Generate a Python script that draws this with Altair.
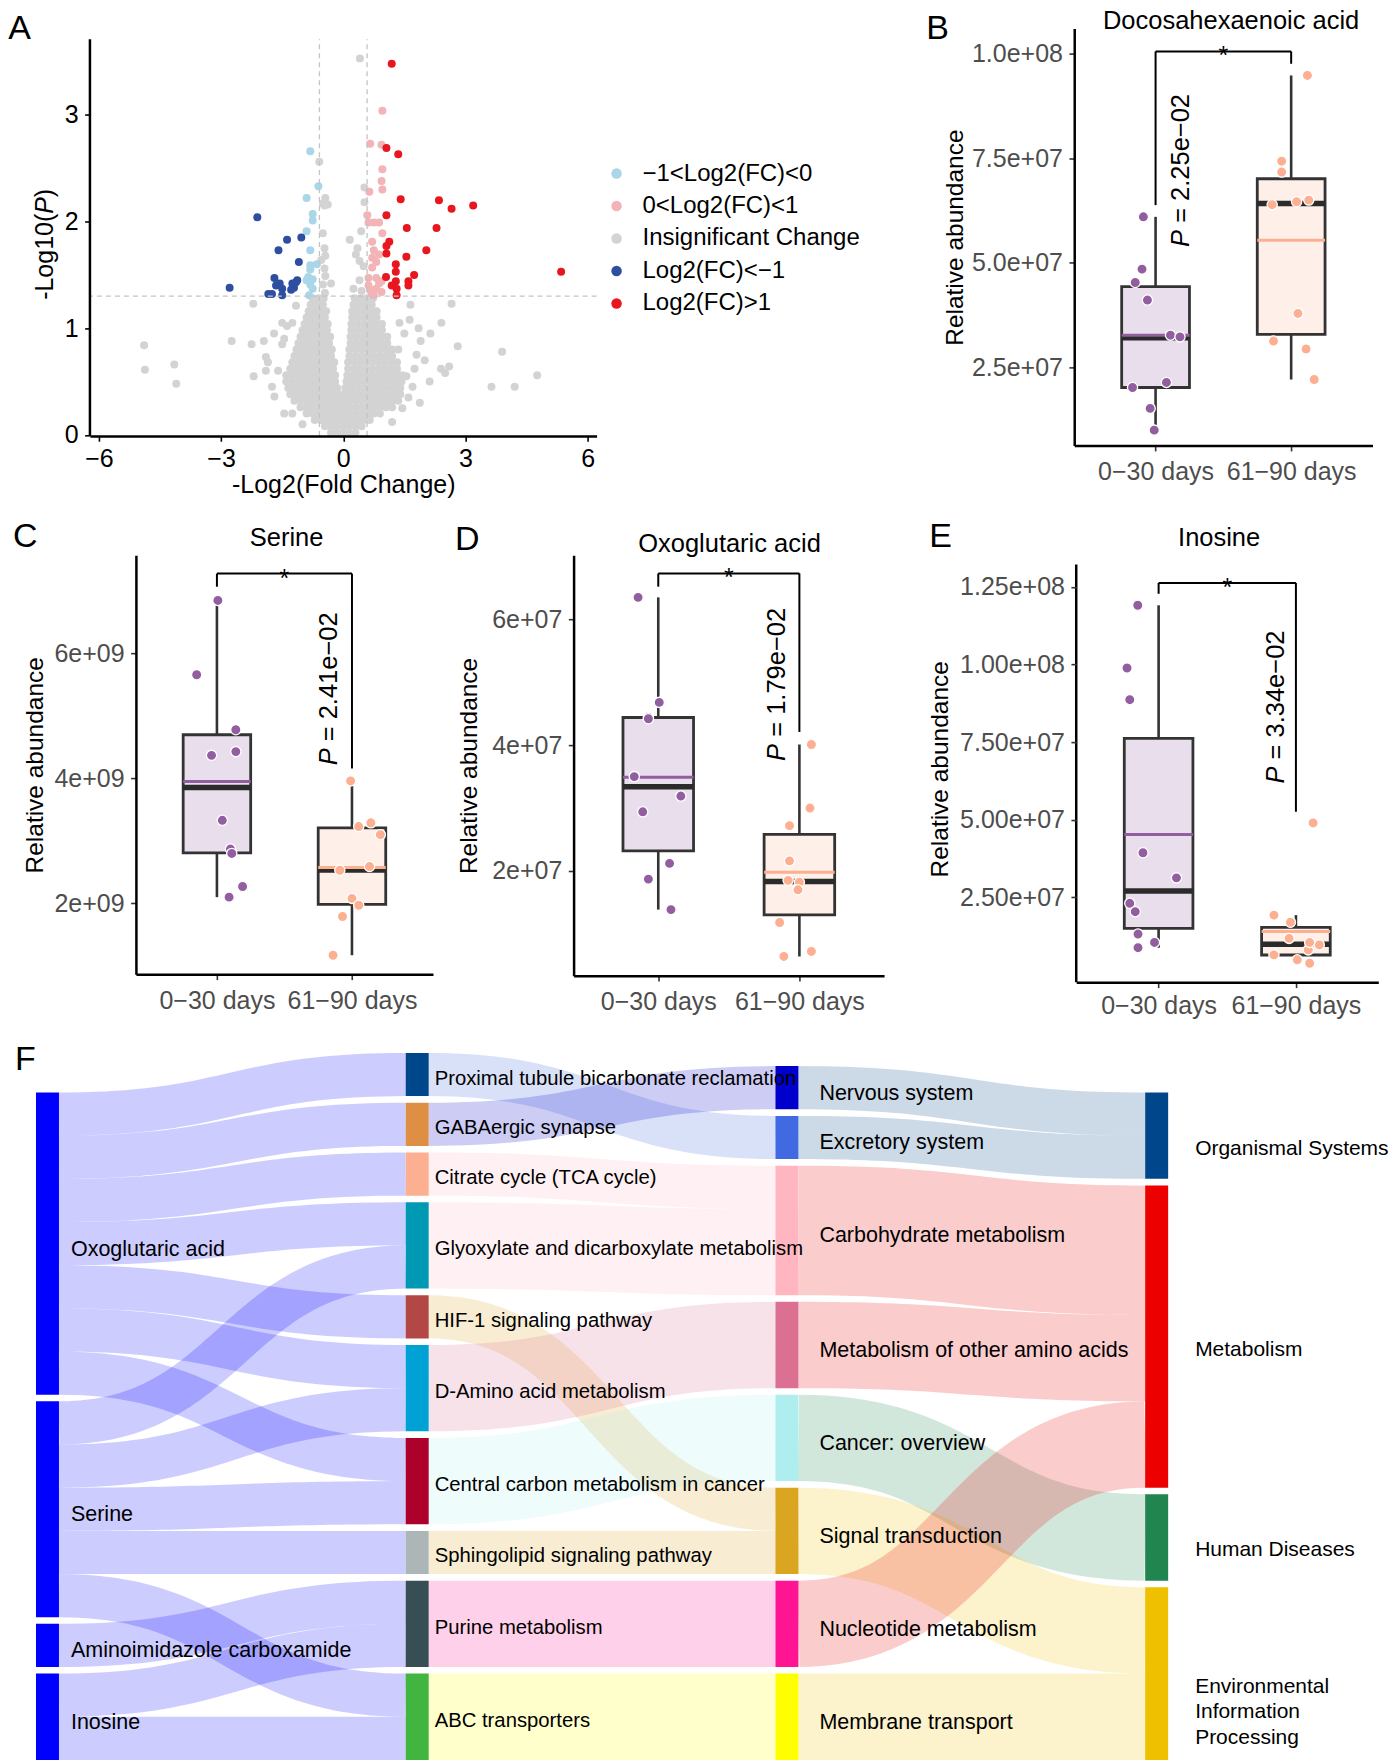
import altair as alt
import numpy as np
import pandas as pd

FONT = "Liberation Sans"
DARK = "#333333"

# ======================= Panel A : volcano plot =======================
vol_cats = ["\u22121<Log2(FC)<0", "0<Log2(FC)<1", "Insignificant Change", "Log2(FC)<\u22121", "Log2(FC)>1"]
vol_colors = ["#A9D6E8", "#F2B4B6", "#D3D3D3", "#2E4FA0", "#E8161E"]
fc_cut = [-0.585, 0.585]
p_cut = [1.301]

lb_x = [-0.81, -0.61, -0.90, -0.75, -0.75, -0.90, -0.81, -0.65, -0.81, -0.81, -0.86, -0.75, -0.81, -0.75, -0.84, -0.90]
lb_y = [2.66, 2.33, 2.22, 2.07, 2.01, 1.91, 1.73, 1.60, 1.59, 1.55, 1.48, 1.46, 1.41, 1.37, 1.31, 1.45]
pk_x = [0.96, 0.66, 0.94, 0.96, 0.94, 0.96, 0.64, 0.59, 0.62, 0.75, 0.88, 0.96, 0.71, 0.75, 0.88, 0.71, 0.81, 0.71,
        0.62, 0.81, 0.94, 0.62, 0.81, 0.69, 0.94, 0.75, 0.88, 0.66]
pk_y = [3.04, 2.73, 2.72, 2.49, 2.38, 2.30, 2.28, 2.06, 1.99, 1.99, 1.99, 1.89, 1.81, 1.73, 1.69, 1.66, 1.62, 1.57,
        1.47, 1.47, 1.44, 1.40, 1.37, 1.34, 1.34, 1.31, 1.42, 1.36]
db_x = [-2.11, -1.38, -1.03, -1.59, -1.09, -1.69, -1.56, -1.50, -1.25, -1.13, -1.21, -1.16, -1.28, -2.79, -1.84, -1.75, -1.50, -1.65]
db_y = [2.04, 1.83, 1.85, 1.73, 1.62, 1.47, 1.42, 1.37, 1.42, 1.45, 1.38, 1.43, 1.36, 1.38, 1.32, 1.32, 1.31, 1.40]
rd_x = [1.19, 1.06, 1.35, 1.41, 2.35, 2.66, 3.19, 1.06, 1.56, 2.29, 1.13, 1.06, 1.06, 2.04, 1.55, 1.29, 1.29, 5.35,
        1.74, 1.05, 1.29, 1.60, 1.60, 1.19, 1.31, 1.31]
rd_y = [3.48, 2.69, 2.63, 2.21, 2.20, 2.12, 2.15, 2.06, 1.94, 1.94, 1.81, 1.77, 1.70, 1.73, 1.67, 1.60, 1.53, 1.53,
        1.50, 1.48, 1.44, 1.44, 1.40, 1.40, 1.37, 1.31]
gr_x = [0.41, -0.59, -0.44, -0.50, -0.38, -0.46, 0.52, 0.52, 0.44, 0.16, -0.50, 0.35, 0.31, 0.40, 0.50, -0.46, -0.44,
        -0.54, -0.46, -0.44, -0.50, 0.25, -0.30, 0.40, 0.45, -0.45,
        -2.21, 1.65, 2.66, -1.16, 1.38, 1.63, 2.41, -1.50, -1.38, -1.25, -2.74, -4.89, -4.87, -4.15, -4.10, 3.90, 4.76,
        3.64, 4.21, 2.81, 2.14, 2.40, 2.50, 2.60, 2.12, 1.88, 1.70, 1.55, -1.25, -1.69, -1.90, -1.85, -1.50, -1.45,
        -2.20, -2.25, -1.90, -1.95, 1.90, 1.80, 1.75, 2.00, 1.50, 1.85, -1.70, -1.60, -1.75, 1.60, 1.45, -1.45, 1.20, -1.00]
gr_y = [3.53, 2.56, 2.22, 2.17, 2.16, 2.15, 2.32, 2.18, 1.91, 1.83, 1.89, 1.75, 1.69, 1.63, 1.58, 1.75, 1.68,
        1.64, 1.56, 1.49, 1.41, 1.37, 1.42, 1.45, 1.35, 1.33,
        1.23, 1.22, 1.23, 1.21, 1.05, 1.08, 1.05, 1.05, 1.02, 1.05, 0.88, 0.84, 0.61, 0.66, 0.48, 0.78, 0.56,
        0.45, 0.45, 0.83, 0.95, 0.62, 0.58, 0.64, 0.50, 0.30, 0.45, 0.55, 0.20, 0.36, 0.73, 0.68, 0.85, 0.90,
        0.55, 0.85, 0.60, 0.88, 0.88, 0.75, 0.62, 0.70, 0.95, 1.00, 0.95, 0.60, 0.45, 0.35, 0.25, 0.20, 0.12, 0.10]
# dense non-significant core, read row by row (y level, x positions)
cloud_rows = [
    (0.02, [-0.3, -0.15, 0.0, 0.15, 0.3]),
    (0.08, [-0.45, -0.3, -0.15, 0.0, 0.15, 0.3, 0.45]),
    (0.14, [-0.7, -0.55, -0.4, -0.25, -0.1, 0.05, 0.2, 0.35, 0.5, 0.65]),
    (0.20, [-0.9, -0.75, -0.6, -0.45, -0.3, -0.15, 0.0, 0.15, 0.3, 0.45, 0.6, 0.75, 0.9]),
    (0.26, [-1.05, -0.9, -0.75, -0.6, -0.45, -0.3, -0.15, 0.0, 0.15, 0.3, 0.45, 0.6, 0.75, 0.9, 1.05, 1.2]),
    (0.32, [-1.2, -1.05, -0.9, -0.75, -0.6, -0.45, -0.3, -0.15, 0.0, 0.15, 0.3, 0.45, 0.6, 0.75, 0.9, 1.05, 1.2, 1.35]),
    (0.38, [-1.3, -1.15, -1.0, -0.85, -0.7, -0.55, -0.4, -0.25, -0.1, 0.05, 0.2, 0.35, 0.5, 0.65, 0.8, 0.95, 1.1, 1.25, 1.4]),
    (0.44, [-1.35, -1.2, -1.05, -0.9, -0.75, -0.6, -0.45, -0.3, -0.15, 0.05, 0.2, 0.35, 0.5, 0.65, 0.8, 0.95, 1.1, 1.25, 1.4]),
    (0.50, [-1.4, -1.25, -1.1, -0.95, -0.8, -0.65, -0.5, -0.35, -0.2, 0.08, 0.23, 0.38, 0.53, 0.68, 0.83, 0.98, 1.13, 1.28, 1.43]),
    (0.56, [-1.4, -1.25, -1.1, -0.95, -0.8, -0.65, -0.5, -0.35, -0.2, 0.1, 0.25, 0.4, 0.55, 0.7, 0.85, 1.0, 1.15, 1.3, 1.45]),
    (0.62, [-1.3, -1.15, -1.0, -0.85, -0.7, -0.55, -0.4, -0.25, 0.12, 0.27, 0.42, 0.57, 0.72, 0.87, 1.02, 1.17, 1.32]),
    (0.68, [-1.25, -1.1, -0.95, -0.8, -0.65, -0.5, -0.35, -0.22, 0.12, 0.27, 0.42, 0.57, 0.72, 0.87, 1.02, 1.17, 1.32]),
    (0.74, [-1.2, -1.05, -0.9, -0.75, -0.6, -0.45, -0.3, 0.15, 0.3, 0.45, 0.6, 0.75, 0.9, 1.05, 1.2]),
    (0.80, [-1.15, -1.0, -0.85, -0.7, -0.55, -0.4, -0.28, 0.15, 0.3, 0.45, 0.6, 0.75, 0.9, 1.05, 1.2, 1.35]),
    (0.86, [-1.1, -0.95, -0.8, -0.65, -0.5, -0.35, 0.18, 0.33, 0.48, 0.63, 0.78, 0.93, 1.08]),
    (0.92, [-1.05, -0.9, -0.75, -0.6, -0.45, -0.32, 0.18, 0.33, 0.48, 0.63, 0.78, 0.93, 1.08]),
    (0.98, [-1.0, -0.85, -0.7, -0.55, -0.4, 0.2, 0.35, 0.5, 0.65, 0.8, 0.95]),
    (1.04, [-0.95, -0.8, -0.65, -0.5, -0.38, 0.2, 0.35, 0.5, 0.65, 0.8, 0.95]),
    (1.10, [-0.9, -0.75, -0.6, -0.45, 0.22, 0.37, 0.52, 0.67, 0.82]),
    (1.16, [-0.85, -0.7, -0.55, -0.42, 0.22, 0.37, 0.52, 0.67, 0.82]),
    (1.22, [-0.8, -0.65, -0.5, 0.25, 0.4, 0.55, 0.7]),
    (1.28, [-0.75, -0.6, -0.48, 0.28, 0.43, 0.58, 0.73]),
]

# ======================= Panels B-E : box plots =======================
groups = ["0\u221230 days", "61\u221290 days"]
grp_colors = ["#925E9F", "#FDAF91"]

B_x1 = [0.91, 0.90, 0.85, 0.94, 1.11, 1.18, 0.83, 1.08, 0.96, 0.99]
B_y1 = [6.10e7, 4.85e7, 4.53e7, 4.11e7, 3.27e7, 3.23e7, 2.02e7, 2.14e7, 1.52e7, 1.00e7]
B_x2 = [2.12, 1.93, 1.93, 1.86, 2.04, 2.13, 2.05, 1.87, 2.11, 2.17]
B_y2 = [9.48e7, 7.43e7, 7.17e7, 6.39e7, 6.46e7, 6.50e7, 3.79e7, 3.13e7, 2.94e7, 2.21e7]
B_q1, B_med, B_q3 = [2.02e7, 3.29e7], [3.21e7, 6.42e7], [4.43e7, 7.01e7]
B_mean, B_lo, B_hi = [3.27e7, 5.54e7], [1.00e7, 2.21e7], [6.10e7, 9.48e7]
B_ticks = [2.5e7, 5.0e7, 7.5e7, 1.0e8]
B_ticklabels = ["2.5e+07", "5.0e+07", "7.5e+07", "1.0e+08"]

C_x1 = [1.007, 0.85, 1.14, 0.96, 1.14, 1.04, 1.10, 1.11, 1.19, 1.09]
C_y1 = [6.85e9, 5.66e9, 4.78e9, 4.37e9, 4.43e9, 3.33e9, 2.87e9, 2.80e9, 2.27e9, 2.10e9]
C_x2 = [1.99, 2.05, 2.14, 2.21, 1.91, 2.13, 2.00, 2.05, 1.93, 1.86]
C_y2 = [3.96e9, 3.23e9, 3.29e9, 3.10e9, 2.53e9, 2.59e9, 2.08e9, 1.97e9, 1.79e9, 1.17e9]
C_q1, C_med, C_q3 = [2.81e9, 1.984e9], [3.856e9, 2.534e9], [4.70e9, 3.21e9]
C_mean, C_lo, C_hi = [3.95e9, 2.576e9], [2.10e9, 1.17e9], [6.85e9, 3.96e9]
C_ticks = [2e9, 4e9, 6e9]
C_ticklabels = ["2e+09", "4e+09", "6e+09"]

D_x1 = [0.857, 1.007, 0.93, 0.93, 0.83, 1.16, 0.89, 1.08, 0.93, 1.09]
D_y1 = [6.35e7, 4.68e7, 4.44e7, 4.42e7, 3.50e7, 3.19e7, 2.94e7, 2.12e7, 1.87e7, 1.385e7]
D_x2 = [2.085, 2.075, 1.93, 1.93, 1.92, 2.00, 1.99, 1.86, 2.085, 1.89]
D_y2 = [4.01e7, 3.00e7, 2.72e7, 2.16e7, 1.85e7, 1.82e7, 1.70e7, 1.18e7, 0.72e7, 0.64e7]
D_q1, D_med, D_q3 = [2.32e7, 1.30e7], [3.34e7, 1.83e7], [4.44e7, 2.58e7]
D_mean, D_lo, D_hi = [3.49e7, 1.98e7], [1.385e7, 0.64e7], [6.35e7, 4.01e7]
D_ticks = [2e7, 4e7, 6e7]
D_ticklabels = ["2e+07", "4e+07", "6e+07"]

E_x1 = [0.848, 0.77, 0.79, 0.886, 1.13, 0.79, 0.83, 0.85, 0.97, 0.85]
E_y1 = [1.191e8, 9.89e7, 8.87e7, 3.94e7, 3.13e7, 2.31e7, 2.04e7, 1.32e7, 1.05e7, 0.88e7]
E_x2 = [2.125, 1.84, 1.96, 1.95, 2.17, 2.09, 1.84, 2.01, 2.10, 2.10]
E_y2 = [4.90e7, 1.93e7, 1.70e7, 1.18e7, 0.97e7, 0.81e7, 0.65e7, 0.49e7, 0.38e7, 1.05e7]
E_q1, E_med, E_q3 = [1.50e7, 0.646e7], [2.71e7, 0.99e7], [7.62e7, 1.535e7]
E_mean, E_lo, E_hi = [4.53e7, 1.40e7], [0.88e7, 0.38e7], [1.191e8, 1.93e7]
E_ticks = [2.5e7, 5.0e7, 7.5e7, 1.0e8, 1.25e8]
E_ticklabels = ["2.50e+07", "5.00e+07", "7.50e+07", "1.00e+08", "1.25e+08"]

# significance annotations: bracket height, leg ends, p label text/position
B_sig = dict(bracket=1.0055e8, legs=[6.38e7, 9.76e7], p="2.25e\u221202", px=1.185, py=5.38e7)
C_sig = dict(bracket=7.28e9, legs=[7.07e9, 4.16e9], p="2.41e\u221202", px=1.827, py=4.21e9)
D_sig = dict(bracket=6.73e7, legs=[6.52e7, 4.21e7], p="1.79e\u221202", px=1.84, py=3.75e7)
E_sig = dict(bracket=1.263e8, legs=[1.228e8, 5.26e7], p="3.34e\u221202", px=1.857, py=6.17e7)

# ======================= Panel F : Sankey =======================
sk_col1 = ["Oxoglutaric acid", "Serine", "Aminoimidazole carboxamide", "Inosine"]
sk_col2 = ["Proximal tubule bicarbonate reclamation", "GABAergic synapse", "Citrate cycle (TCA cycle)",
           "Glyoxylate and dicarboxylate metabolism", "HIF-1 signaling pathway", "D-Amino acid metabolism",
           "Central carbon metabolism in cancer", "Sphingolipid signaling pathway", "Purine metabolism",
           "ABC transporters"]
sk_col3 = ["Nervous system", "Excretory system", "Carbohydrate metabolism", "Metabolism of other amino acids",
           "Cancer: overview", "Signal transduction", "Nucleotide metabolism", "Membrane transport"]
sk_col4 = ["Organismal Systems", "Metabolism", "Human Diseases", "Environmental Information Processing"]
sk_col4_labels = ["Organismal Systems", "Metabolism", "Human Diseases", "Environmental\nInformation\nProcessing"]
sk_col1_colors = ["#0000FF", "#0000FF", "#0000FF", "#0000FF"]
sk_col2_colors = ["#00468B", "#DF8F44", "#FDAF91", "#0099B4", "#B24745", "#00A1D5", "#AD002A", "#ADB6B6",
                  "#374E55", "#42B540"]
sk_col3_colors = ["#0000CD", "#4169E1", "#FFB6C1", "#DB7093", "#AFEEEE", "#DAA520", "#FF1493", "#FFFF00"]
sk_col4_colors = ["#00468B", "#ED0000", "#20854E", "#EFC000"]

lk_src = ["Oxoglutaric acid"] * 7 + ["Serine"] * 5 + ["Aminoimidazole carboxamide", "Inosine", "Inosine"] + [
    "Proximal tubule bicarbonate reclamation", "GABAergic synapse", "Citrate cycle (TCA cycle)",
    "Glyoxylate and dicarboxylate metabolism", "HIF-1 signaling pathway", "D-Amino acid metabolism",
    "Central carbon metabolism in cancer", "Sphingolipid signaling pathway", "Purine metabolism",
    "ABC transporters",
    "Nervous system", "Excretory system", "Carbohydrate metabolism", "Metabolism of other amino acids",
    "Cancer: overview", "Signal transduction", "Nucleotide metabolism", "Membrane transport"]
lk_tgt = [
    "Proximal tubule bicarbonate reclamation", "GABAergic synapse", "Citrate cycle (TCA cycle)",
    "Glyoxylate and dicarboxylate metabolism", "HIF-1 signaling pathway", "D-Amino acid metabolism",
    "Central carbon metabolism in cancer",
    "Glyoxylate and dicarboxylate metabolism", "D-Amino acid metabolism", "Central carbon metabolism in cancer",
    "Sphingolipid signaling pathway", "ABC transporters",
    "Purine metabolism", "Purine metabolism", "ABC transporters",
    "Excretory system", "Nervous system", "Carbohydrate metabolism", "Carbohydrate metabolism",
    "Signal transduction", "Metabolism of other amino acids", "Cancer: overview", "Signal transduction",
    "Nucleotide metabolism", "Membrane transport",
    "Organismal Systems", "Organismal Systems", "Metabolism", "Metabolism", "Human Diseases",
    "Environmental Information Processing", "Metabolism", "Environmental Information Processing"]
lk_val = [1] * 15 + [1, 1, 1, 2, 1, 2, 2, 1, 2, 2] + [1, 1, 3, 2, 2, 2, 2, 2]

# ======================= helpers =======================
AX = dict(grid=False, domainColor="black", domainWidth=2.5, tickColor=DARK, tickWidth=1.6, tickSize=5.3,
          labelColor="#4D4D4D", labelFontSize=25, labelFont=FONT, titleFont=FONT, titleFontSize=24.5,
          titleFontWeight="normal", titleColor="black", labelFlush=False, labelOverlap=False, zindex=1)
ONE = pd.DataFrame({"k": [0]})


def text_at(txt, x, y, size, align="left", baseline="alphabetic", **kw):
    return alt.Chart(ONE).mark_text(text=txt, fontSize=size, font=FONT, align=align, baseline=baseline,
                                    color="black", **kw).encode(x=alt.value(x), y=alt.value(y))


def spacer(w, h):
    return alt.Chart(ONE).mark_point(opacity=0).encode(
        x=alt.X("k:Q", axis=None), y=alt.Y("k:Q", axis=None)).properties(width=w, height=h)


# ---------------- Panel A ----------------
A_W, A_H = 507, 407.6
rows = []
for yv, xs in cloud_rows:
    for xv in xs:
        rows.append((xv, yv, vol_cats[2]))
rows += [(a, b, vol_cats[2]) for a, b in zip(gr_x, gr_y)]
rows += [(a, b, vol_cats[0]) for a, b in zip(lb_x, lb_y)]
rows += [(a, b, vol_cats[1]) for a, b in zip(pk_x, pk_y)]
rows += [(a, b, vol_cats[3]) for a, b in zip(db_x, db_y)]
rows += [(a, b, vol_cats[4]) for a, b in zip(rd_x, rd_y)]
dfA = pd.DataFrame(rows, columns=["x", "y", "cat"])

A_xdom = [-6.22, 6.22]
A_ydom = [-0.01, 3.71]
AXA = dict(AX, labelColor="black", tickColor="black", labelFontSize=25, titleFontSize=25)
xsA = alt.Scale(domain=A_xdom, nice=False, zero=False)
ysA = alt.Scale(domain=[A_ydom[0], 3.809], nice=False, zero=False)
xaxA = alt.Axis(values=[-6, -3, 0, 3, 6], title="-Log2(Fold Change)", labelPadding=5, titlePadding=1, **AXA)
yaxA = alt.Axis(values=[0, 1, 2, 3], title=None, labelPadding=6.5, domain=False, **AXA)

ptsA = alt.Chart(dfA).mark_circle(size=64, opacity=1, clip=True).encode(
    x=alt.X("x:Q", scale=xsA, axis=xaxA),
    y=alt.Y("y:Q", scale=ysA, axis=yaxA),
    color=alt.Color("cat:N", scale=alt.Scale(domain=vol_cats, range=vol_colors),
                    legend=alt.Legend(title=None, orient="none", legendX=569, legendY=133, labelFontSize=24,
                                      labelFont=FONT, labelColor="black", symbolType="circle", symbolSize=110,
                                      symbolStrokeWidth=0, symbolOpacity=1, rowPadding=8.5, labelOffset=14,
                                      padding=0, labelLimit=0)),
)
vl = alt.Chart(pd.DataFrame({"v": fc_cut, "y0": [A_ydom[0]] * 2, "y1": [A_ydom[1]] * 2})).mark_rule(
    color="#C4C4C4", strokeDash=[5, 4], strokeWidth=1.3).encode(
    x=alt.X("v:Q", scale=xsA, axis=xaxA), y=alt.Y("y0:Q", scale=ysA, axis=yaxA), y2="y1:Q")
hl = alt.Chart(pd.DataFrame({"h": p_cut})).mark_rule(color="#C4C4C4", strokeDash=[5, 4], strokeWidth=1.3).encode(
    y=alt.Y("h:Q", scale=ysA, axis=yaxA))
yline = alt.Chart(pd.DataFrame({"x": [A_xdom[0]], "y0": [A_ydom[0]], "y1": [A_ydom[1]]})).mark_rule(
    color="black", strokeWidth=2.5).encode(
    x=alt.X("x:Q", scale=xsA, axis=xaxA), y=alt.Y("y0:Q", scale=ysA, axis=yaxA), y2="y1:Q")
# y title "-Log10(P)" with italic P, centred on the axis (P glyph sits above the centre)
yP = 177
ytA1 = text_at("-Log10(", -45, yP + 8.3, 25, align="right", baseline="middle", angle=270)
ytA2 = text_at("P", -45, yP, 25, align="center", baseline="middle", angle=270, fontStyle="italic")
ytA3 = text_at(")", -45, yP - 8.3, 25, align="left", baseline="middle", angle=270)
chartA = alt.layer(ptsA, vl, hl, yline, ytA1, ytA2, ytA3,
                   text_at("A", -81.7, 10.3, 34)).properties(width=A_W, height=A_H)


# ---------------- box panels ----------------
BOX_HALF = 0.25


def box_panel(title, letter, x1, y1, x2, y2, q1, med, q3, mean, lo, hi, ticks, ticklabels, domain, sig,
              W, H, letter_xy, title_xy, ytp, xlp, extra_top=None):
    xs = alt.Scale(domain=[0.4, 2.6], nice=False, zero=False)
    ytop = domain[1] if extra_top is None else extra_top
    ys = alt.Scale(domain=[domain[0], ytop], nice=False, zero=False)
    lab_expr = " : ".join(f"datum.value == {float(v)!r} ? '{l}'" for v, l in zip(ticks, ticklabels)) + " : ''"
    xaxis = alt.Axis(values=[1, 2], labelExpr=f"datum.value == 1 ? '{groups[0]}' : '{groups[1]}'", title=None,
                     labelPadding=xlp, **AX)
    yaxis = alt.Axis(values=ticks, labelExpr=lab_expr, title="Relative abundance", titlePadding=ytp,
                     labelPadding=6.5, domain=extra_top is None, **AX)

    def X(f):
        return alt.X(f, scale=xs, axis=xaxis)

    def Y(f):
        return alt.Y(f, scale=ys, axis=yaxis)

    g = pd.DataFrame({"g": groups, "col": grp_colors, "x": [1, 2], "xl": [1 - BOX_HALF, 2 - BOX_HALF],
                      "xr": [1 + BOX_HALF, 2 + BOX_HALF],
                      "q1": q1, "med": med, "q3": q3, "mean": mean, "lo": lo, "hi": hi})
    pts = pd.DataFrame({"col": [grp_colors[0]] * len(x1) + [grp_colors[1]] * len(x2), "x": x1 + x2, "y": y1 + y2})
    base = alt.Chart(g)
    layers = []
    if extra_top is not None:
        layers.append(alt.Chart(pd.DataFrame({"x": [0.4], "y0": [domain[0]], "y1": [domain[1]]})).mark_rule(
            color="black", strokeWidth=2.5).encode(x=X("x:Q"), y=Y("y0:Q"), y2="y1:Q"))
    w_hi = base.mark_rule(color=DARK, strokeWidth=2.6).encode(x=X("x:Q"), y=Y("q3:Q"), y2="hi:Q")
    w_lo = base.mark_rule(color=DARK, strokeWidth=2.6).encode(x=X("x:Q"), y=Y("lo:Q"), y2="q1:Q")
    box = base.mark_rect(stroke=DARK, strokeWidth=2.8, fillOpacity=0.2).encode(
        x=X("xl:Q"), x2="xr:Q", y=Y("q1:Q"), y2="q3:Q", fill=alt.Fill("col:N", scale=None))
    md = base.mark_rule(color="#2B2B2B", strokeWidth=5.5).encode(x=X("xl:Q"), x2="xr:Q", y=Y("med:Q"))
    mn = base.mark_rule(strokeWidth=3).encode(x=X("xl:Q"), x2="xr:Q", y=Y("mean:Q"),
                                              color=alt.Color("col:N", scale=None))
    pt = alt.Chart(pts).mark_circle(size=105, opacity=1, stroke="white", strokeWidth=1.3).encode(
        x=X("x:Q"), y=Y("y:Q"), color=alt.Color("col:N", scale=None))
    by = sig["bracket"]
    br = pd.DataFrame({"x": [1, 1, 2], "x2": [2, 1, 2], "y": [by, by, by], "y2": [by, sig["legs"][0], sig["legs"][1]]})
    brk = alt.Chart(br).mark_rule(color="black", strokeWidth=2).encode(x=X("x:Q"), x2="x2:Q", y=Y("y:Q"), y2="y2:Q")
    star = alt.Chart(pd.DataFrame({"x": [1.5], "y": [by]})).mark_text(
        text="*", fontSize=25, font=FONT, dy=5, color="black").encode(x=X("x:Q"), y=Y("y:Q"))
    pdf = pd.DataFrame({"x": [sig["px"]], "y": [sig["py"]]})
    p1 = alt.Chart(pdf).mark_text(text="P", fontStyle="italic", angle=270, align="left", baseline="middle",
                                  fontSize=25.5, font=FONT, color="black").encode(x=X("x:Q"), y=Y("y:Q"))
    p2 = alt.Chart(pdf).mark_text(text="= " + sig["p"], angle=270, align="left", baseline="middle", dx=24.1,
                                  fontSize=25.5, font=FONT, color="black").encode(x=X("x:Q"), y=Y("y:Q"))
    ttl = text_at(title, title_xy[0], title_xy[1], 25.5, align="center")
    let = text_at(letter, letter_xy[0], letter_xy[1], 34)
    layers += [w_hi, w_lo, box, md, mn, pt, brk, star, p1, p2, ttl, let]
    return alt.layer(*layers).properties(width=W, height=H)


chartB = box_panel("Docosahexaenoic acid", "B", B_x1, B_y1, B_x2, B_y2, B_q1, B_med, B_q3, B_mean, B_lo, B_hi,
                   B_ticks, B_ticklabels, [0.63e7, 1.06e8], B_sig, 298.5, 417.3, (-148, 10.3), (157, 0.6), 4, 9)
chartC = box_panel("Serine", "C", C_x1, C_y1, C_x2, C_y2, C_q1, C_med, C_q3, C_mean, C_lo, C_hi,
                   C_ticks, C_ticklabels, [0.864e9, 7.574e9], C_sig, 297.3, 419.4, (-123, -8.3), (150.8, -9.3),
                   6.5, 8.5)
chartD = box_panel("Oxoglutaric acid", "D", D_x1, D_y1, D_x2, D_y2, D_q1, D_med, D_q3, D_mean, D_lo, D_hi,
                   D_ticks, D_ticklabels, [0.335e7, 7.02e7], D_sig, 310.7, 420.7, (-118.8, -5.3), (156, -3.3), 10, 9)
chartE = box_panel("Inosine", "E", E_x1, E_y1, E_x2, E_y2, E_q1, E_med, E_q3, E_mean, E_lo, E_hi,
                   E_ticks, E_ticklabels, [-0.235e7, 1.322e8], E_sig, 302.3, 427.4, (-147, -8.3), (143, -9.3),
                   7.5, 5.5, extra_top=1.3522e8)

# ---------------- Panel F : Sankey layout ----------------
F_W, F_H = 1133, 707.6
KY, GAP, NODE_W = 43.21, 6.6, 23
COL_X = [0, 370, 740, 1110]
LABEL_DX = [12, 6, 21, 27]
LABEL_DY = [6, 4, 6, 13]
LABEL_FS = [21.5, 20.3, 21.5, 21]

columns = [sk_col1, sk_col2, sk_col3, sk_col4]
col_colors = [sk_col1_colors, sk_col2_colors, sk_col3_colors, sk_col4_colors]
col_labels = [sk_col1, sk_col2, sk_col3, sk_col4_labels]
links = [dict(s=s, t=t, v=v) for s, t, v in zip(lk_src, lk_tgt, lk_val)]
nodes = {}
for ci, names in enumerate(columns):
    vals = []
    for n in names:
        vin = sum(l["v"] for l in links if l["t"] == n)
        vout = sum(l["v"] for l in links if l["s"] == n)
        vals.append(max(vin, vout))
    y = F_H - (sum(vals) * KY + (len(names) - 1) * GAP)
    for n, v, c, lab in zip(names, vals, col_colors[ci], col_labels[ci]):
        nodes[n] = dict(col=ci, x0=COL_X[ci], x1=COL_X[ci] + NODE_W, y0=y, y1=y + v * KY, color=c, label=lab)
        y += v * KY + GAP
for n, nd in nodes.items():
    yy = nd["y0"]
    for l in sorted([l for l in links if l["s"] == n], key=lambda l: nodes[l["t"]]["y0"]):
        l["sy"] = yy + l["v"] * KY / 2
        yy += l["v"] * KY
    yy = nd["y0"]
    for l in sorted([l for l in links if l["t"] == n], key=lambda l: nodes[l["s"]]["y0"]):
        l["ty"] = yy + l["v"] * KY / 2
        yy += l["v"] * KY

T = np.linspace(0, 1, 41)
lrows = []
for i, l in enumerate(links):
    s, t = nodes[l["s"]], nodes[l["t"]]
    x0, x1 = s["x1"], t["x0"]
    xm = (x0 + x1) / 2
    col = s["color"] if s["col"] == 0 else t["color"]
    for k, tt in enumerate(T):
        u = 1 - tt
        xx = u ** 3 * x0 + 3 * u * u * tt * xm + 3 * u * tt * tt * xm + tt ** 3 * x1
        yy = u ** 3 * l["sy"] + 3 * u * u * tt * l["sy"] + 3 * u * tt * tt * l["ty"] + tt ** 3 * l["ty"]
        lrows.append((i, k, xx, yy, col, l["v"] * KY))
dfL = pd.DataFrame(lrows, columns=["lid", "k", "x", "y", "col", "w"])
dfN = pd.DataFrame([dict(x0=nd["x0"], x1=nd["x1"], y0=nd["y0"], y1=nd["y1"], col=nd["color"], label=nd["label"],
                         lx=nd["x1"] + LABEL_DX[nd["col"]], ly=(nd["y0"] + nd["y1"]) / 2 + LABEL_DY[nd["col"]],
                         fs=LABEL_FS[nd["col"]]) for nd in nodes.values()])

fx = alt.Scale(domain=[0, F_W], nice=False, zero=False)
fy = alt.Scale(domain=[0, F_H], nice=False, zero=False, reverse=True)
f_links = alt.Chart(dfL).mark_line(strokeCap="butt", strokeJoin="round", strokeOpacity=0.2).encode(
    x=alt.X("x:Q", scale=fx, axis=None), y=alt.Y("y:Q", scale=fy, axis=None),
    detail="lid:N", order="k:Q",
    stroke=alt.Stroke("col:N", scale=None), strokeWidth=alt.StrokeWidth("w:Q", scale=None))
f_nodes = alt.Chart(dfN).mark_rect().encode(
    x=alt.X("x0:Q", scale=fx, axis=None), x2="x1:Q", y=alt.Y("y0:Q", scale=fy, axis=None), y2="y1:Q",
    fill=alt.Fill("col:N", scale=None))
f_labels = alt.Chart(dfN).mark_text(align="left", baseline="middle", lineBreak="\n", lineHeight=25.7, font=FONT,
                                    color="black").encode(
    x=alt.X("lx:Q", scale=fx, axis=None), y=alt.Y("ly:Q", scale=fy, axis=None), text="label:N",
    size=alt.Size("fs:Q", scale=None))
chartF = alt.layer(f_links, f_nodes, f_labels, text_at("F", -21, 17.3, 34)).properties(width=F_W, height=F_H)

# ---------------- assemble (flush layout; rows are positioned by spacers) ----------------
row1 = alt.hconcat(spacer(53.7, 1), chartA, spacer(477.5, 1), chartB, spacing=0, bounds="flush")
row2 = alt.hconcat(spacer(99.7, 1), chartC, spacer(139.3, 1), chartD, spacer(191.7, 1), chartE,
                   spacing=0, bounds="flush")
chart = alt.vconcat(row1, spacer(1, 526.6), row2, spacer(1, 497.4), chartF, spacing=0, bounds="flush").properties(
    padding=0).configure(font=FONT).configure_view(stroke=None)

chart.save("out.html", embed_options={"renderer": "svg", "actions": False})
